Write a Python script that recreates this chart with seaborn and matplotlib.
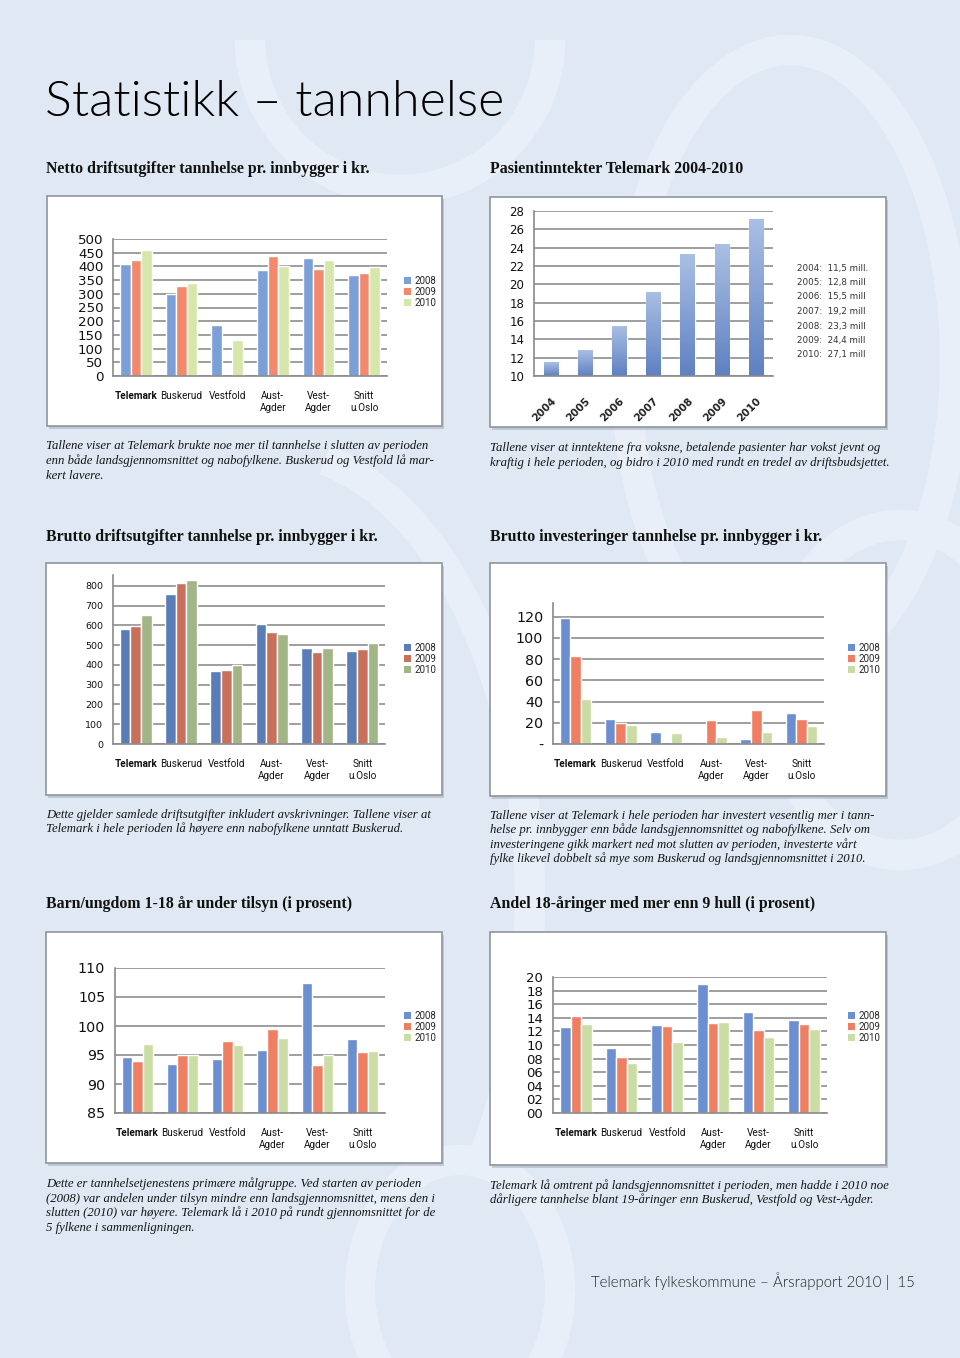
import numpy as np
import pandas as pd
import seaborn as sns
import matplotlib.pyplot as plt
from matplotlib.patches import Rectangle, Patch, Arc
from matplotlib.colors import LinearSegmentedColormap

# --- data -------------------------------------------------------------------
REGIONS = ['Telemark', 'Buskerud', 'Vestfold', 'Aust-\nAgder', 'Vest-\nAgder', 'Snitt\nu.Oslo']
YEARS = ['2008', '2009', '2010']

# rows = 2008, 2009, 2010 ; columns follow REGIONS
NETTO = [[407, 298, 185, 388, 432, 370],
         [425, 330, np.nan, 437, 390, 375],
         [460, 340, 130, 403, 425, 398]]
BRUTTO = [[580, 760, 370, 605, 488, 472],
          [595, 812, 375, 565, 463, 483],
          [652, 832, 400, 555, 488, 510]]
INVEST = [[119, 24, 11, 0, 5, 29],
          [83, 20, 0, 23, 32, 24],
          [42, 18, 10, 7, 11, 17]]
TILSYN = [[94.7, 93.4, 94.3, 95.9, 107.4, 97.7],
          [93.9, 95.0, 97.4, 99.5, 93.2, 95.6],
          [96.9, 95.0, 96.8, 98.0, 95.0, 95.7]]
HULL = [[12.6, 9.5, 12.9, 18.9, 14.9, 13.7],
        [14.2, 8.3, 12.8, 13.3, 12.2, 13.1],
        [13.1, 7.4, 10.5, 13.4, 11.2, 12.4]]

PAS_YEARS = ['2004', '2005', '2006', '2007', '2008', '2009', '2010']
PAS_VALUES = [11.5, 12.8, 15.5, 19.2, 23.3, 24.4, 27.1]
PAS_NOTES = ['2004:  11,5 mill.', '2005:  12,8 mill', '2006:  15,5 mill', '2007:  19,2 mill',
             '2008:  23,3 mill', '2009:  24,4 mill', '2010:  27,1 mill']

W, H = 960, 1358
BG = '#dfe8f3'
SERIF = ['Liberation Serif', 'DejaVu Serif']
SANS_SMALL = ['Roboto', 'DejaVu Sans']

sns.set_theme(style='white')
plt.rcParams['font.family'] = ['DejaVu Sans']

fig = plt.figure(figsize=(W / 100, H / 100), dpi=100)
fig.patch.set_facecolor(BG)


def fy(y):
    return 1 - y / H


def box(l, t, r, b):
    # white chart card with a soft shadow
    fig.patches.append(Rectangle((l / W + 2 / W, fy(b) - 3 / H), (r - l) / W, (b - t) / H,
                                 transform=fig.transFigure, facecolor='#a9b3c0', edgecolor='none',
                                 alpha=0.6, zorder=-2))
    fig.patches.append(Rectangle((l / W, fy(b)), (r - l) / W, (b - t) / H,
                                 transform=fig.transFigure, facecolor='white', edgecolor='#8f959c',
                                 lw=1.2, zorder=-1))


def axes(l, t, r, b):
    ax = fig.add_axes([l / W, fy(b), (r - l) / W, (b - t) / H])
    ax.patch.set_visible(False)
    return ax


def style_axis(ax, n, ysize):
    for s in ['top', 'right']:
        ax.spines[s].set_visible(False)
    for s in ['left', 'bottom']:
        ax.spines[s].set_color('#8a8a8a')
        ax.spines[s].set_linewidth(1.2)
        ax.spines[s].set_zorder(5)
    ax.yaxis.grid(True, color='#8e8e8e', lw=1.2)
    ax.set_axisbelow(True)
    ax.set_xlim(-0.5, n - 0.5)
    ax.set_xticks(np.arange(-0.5, n), minor=True)
    ax.tick_params(axis='x', which='major', length=0)
    ax.tick_params(axis='x', which='minor', length=4, color='#8a8a8a', direction='out')
    ax.tick_params(axis='y', length=4, color='#8a8a8a', direction='out', labelsize=ysize,
                   pad=3, labelcolor='#111111')
    ax.set_xlabel('')
    ax.set_ylabel('')


def legend(ax, palette, x, y):
    handles = [Patch(facecolor=c, edgecolor='none') for c in palette]
    ax.legend(handles, YEARS, loc='upper left', bbox_to_anchor=(x / W, fy(y)),
              bbox_transform=fig.transFigure, frameon=False,
              prop={'family': SANS_SMALL, 'size': 7},
              handlelength=0.75, handleheight=0.75, handletextpad=0.3,
              labelspacing=0.1, borderpad=0, borderaxespad=0)


def bar_chart(ax, values, palette, ylim, yticks, yticklabels, ysize, leg_xy):
    df = pd.DataFrame({'region': REGIONS * 3,
                       'year': np.repeat(YEARS, len(REGIONS)),
                       'value': np.ravel(values)})
    sns.barplot(data=df, x='region', y='value', hue='year', order=REGIONS, hue_order=YEARS,
                palette=palette, width=0.7, saturation=1, legend=False, ax=ax, zorder=3)
    style_axis(ax, len(REGIONS), ysize)
    ax.set_ylim(*ylim)
    ax.set_yticks(yticks)
    ax.set_yticklabels(yticklabels)
    ax.tick_params(axis='x', which='major', pad=11)
    for i, lab in enumerate(ax.get_xticklabels()):
        lab.set_family(SANS_SMALL)
        lab.set_fontsize(7.2)
        lab.set_color('#111111')
        if i == 0:
            lab.set_fontweight('bold')
    legend(ax, palette, *leg_xy)


# --- background decoration --------------------------------------------------
deco = dict(transform=fig.transFigure, color='#e9eff8', lw=22, zorder=-3)
fig.patches.append(Arc((790 / W, fy(360)), 330 / W, 620 / H, theta1=0, theta2=360, **deco))
fig.patches.append(Arc((900 / W, fy(690)), 250 / W, 330 / H, theta1=0, theta2=360, **deco))
fig.patches.append(Arc((400 / W, fy(40)), 300 / W, 300 / H, theta1=180, theta2=360, **deco))
fig.patches.append(Arc((460 / W, fy(1290)), 200 / W, 260 / H, theta1=0, theta2=360, **deco))
fig.patches.append(Arc((270 / W, fy(900)), 520 / W, 900 / H, theta1=-40, theta2=80, **deco))

# --- page texts -------------------------------------------------------------
fig.text(45 / W, fy(102), 'Statistikk \u2013 tannhelse', fontsize=36, family=['Lato', 'DejaVu Sans'],
         fontweight=300, color='#000000', va='center', ha='left')

titles = [(46, 169, 'Netto driftsutgifter tannhelse pr. innbygger i kr.'),
          (490, 169, 'Pasientinntekter Telemark 2004-2010'),
          (46, 537, 'Brutto driftsutgifter tannhelse pr. innbygger i kr.'),
          (490, 537, 'Brutto investeringer tannhelse pr. innbygger i kr.'),
          (46, 904, 'Barn/ungdom 1-18 år under tilsyn (i prosent)'),
          (490, 904, 'Andel 18-åringer med mer enn 9 hull (i prosent)')]
for x, y, s in titles:
    fig.text(x / W, fy(y), s, fontsize=11.4, family=SERIF, fontweight='bold',
             color='#111111', va='center', ha='left')

captions = [
    (46, [446, 461, 476], ['Tallene viser at Telemark brukte noe mer til tannhelse i slutten av perioden',
                           'enn både landsgjennomsnittet og nabofylkene. Buskerud og Vestfold lå mar-',
                           'kert lavere.']),
    (490, [448, 463], ['Tallene viser at inntektene fra voksne, betalende pasienter har vokst jevnt og',
                       'kraftig i hele perioden, og bidro i 2010 med rundt en tredel av driftsbudsjettet.']),
    (46, [815, 829], ['Dette gjelder samlede driftsutgifter inkludert avskrivninger. Tallene viser at',
                      'Telemark i hele perioden lå høyere enn nabofylkene unntatt Buskerud.']),
    (490, [816, 830, 845, 859], ['Tallene viser at Telemark i hele perioden har investert vesentlig mer i tann-',
                                'helse pr. innbygger enn både landsgjennomsnittet og nabofylkene. Selv om',
                                'investeringene gikk markert ned mot slutten av perioden, investerte vårt',
                                'fylke likevel dobbelt så mye som Buskerud og landsgjennomsnittet i 2010.']),
    (46, [1184, 1199, 1213, 1228], ['Dette er tannhelsetjenestens primære målgruppe. Ved starten av perioden',
                                    '(2008) var andelen under tilsyn mindre enn landsgjennomsnittet, mens den i',
                                    'slutten (2010) var høyere. Telemark lå i 2010 på rundt gjennomsnittet for de',
                                    '5 fylkene i sammenligningen.']),
    (490, [1186, 1200], ['Telemark lå omtrent på landsgjennomsnittet i perioden, men hadde i 2010 noe',
                         'dårligere tannhelse blant 19-åringer enn Buskerud, Vestfold og Vest-Agder.']),
]
for x, ys, lines in captions:
    for y, s in zip(ys, lines):
        fig.text(x / W, fy(y), s, fontsize=9.2, family=SERIF, style='italic',
                 color='#151515', va='center', ha='left')

fig.text(591 / W, fy(1281), 'Telemark fylkeskommune \u2013 Årsrapport 2010 |  15', fontsize=10.8,
         family=['Lato', 'DejaVu Sans'], fontweight=300, color='#222222', va='center', ha='left')

# --- chart cards ------------------------------------------------------------
box(47, 196, 442, 426)
box(490, 197, 886, 427)
box(46, 563, 442, 795)
box(490, 563, 886, 796)
box(46, 932, 442, 1163)
box(490, 932, 886, 1165)

# 1: Netto driftsutgifter
ax1 = axes(113, 239, 387, 376)
bar_chart(ax1, NETTO, ['#7c9fd7', '#f2886c', '#d6e7ab'], (0, 500), range(0, 501, 50),
          [str(v) for v in range(0, 501, 50)], 9.6, (404, 276))

# 2: Pasientinntekter
ax2 = axes(534, 211, 773, 376)
sns.barplot(x=PAS_YEARS, y=PAS_VALUES, color='#7d9bd0', width=0.42, saturation=1, ax=ax2, zorder=3)
style_axis(ax2, len(PAS_YEARS), 8.5)
ax2.set_ylim(10, 28)
ax2.set_yticks(range(10, 29, 2))
grad = LinearSegmentedColormap.from_list('g', ['#5f81c2', '#a9bfe4'])
for p in ax2.patches:
    x0, y0 = p.get_x(), p.get_y()
    im = ax2.imshow(np.linspace(0, 1, 64).reshape(-1, 1), cmap=grad, origin='lower', aspect='auto',
                    extent=[x0, x0 + p.get_width(), 10, y0 + p.get_height()], zorder=4)
    im.set_clip_path(p)
ax2.set_xlim(-0.5, len(PAS_YEARS) - 0.5)
ax2.set_ylim(10, 28)
ax2.set_xticks(range(len(PAS_YEARS)))
ax2.set_xticklabels(PAS_YEARS, rotation=45, ha='right', va='top', rotation_mode='anchor',
                    fontsize=7.5, fontweight='bold', color='#222222')
ax2.tick_params(axis='x', which='major', pad=14)
for i, s in enumerate(PAS_NOTES):
    fig.text(797 / W, fy(268 + i * 14.5), s, fontsize=6.3, color='#333333', va='center', ha='left')

# 3: Brutto driftsutgifter
ax3 = axes(113, 575, 385, 744)
bar_chart(ax3, BRUTTO, ['#5a7db8', '#c9705d', '#a2b586'], (0, 855), range(0, 801, 100),
          [str(v) for v in range(0, 801, 100)], 6.8, (404, 643))

# 4: Brutto investeringer
ax4 = axes(553, 603, 824, 744)
bar_chart(ax4, INVEST, ['#6a8ed0', '#ef7e62', '#c9dca3'], (0, 133), range(0, 121, 20),
          ['-'] + [str(v) for v in range(20, 121, 20)], 10.3, (848, 643))

# 5: Barn/ungdom under tilsyn
ax5 = axes(115, 968, 385, 1113)
bar_chart(ax5, TILSYN, ['#6b8fd0', '#ef7f63', '#cadda4'], (85, 110), range(85, 111, 5),
          [str(v) for v in range(85, 111, 5)], 10.3, (404, 1011))

# 6: Andel 18-åringer med mer enn 9 hull
ax6 = axes(553, 977, 827, 1113)
bar_chart(ax6, HULL, ['#6b8fd0', '#ef7f63', '#cadda4'], (0, 20), range(0, 21, 2),
          ['%02d' % v for v in range(0, 21, 2)], 9.5, (848, 1011))

plt.savefig('out.png', dpi=100, facecolor=fig.get_facecolor())
